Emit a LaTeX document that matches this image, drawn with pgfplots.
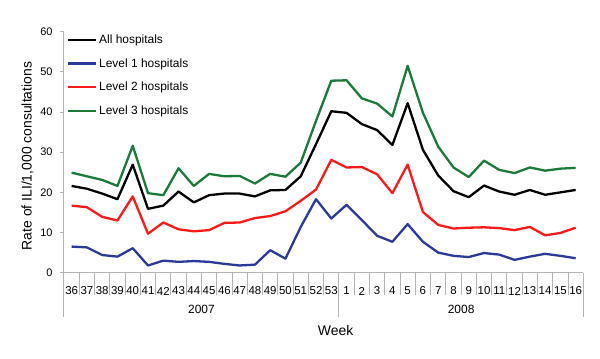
\documentclass[border=0pt]{standalone}
\usepackage{pgfplots}
\pgfplotsset{compat=1.18}
\usepackage{pgfplotstable}
\usepackage{fontspec}
\setmainfont{Liberation Sans}
\definecolor{lblue}{RGB}{43,58,154}
\definecolor{lred}{RGB}{250,26,26}
\definecolor{lgreen}{RGB}{26,122,58}
\definecolor{axgray}{RGB}{180,180,180}
\pgfplotstableread{
x all l1 l2 l3
0 21.6 6.5 16.7 24.9
1 20.9 6.3 16.3 24.0
2 19.7 4.4 13.9 23.1
3 18.3 4.0 13.0 21.6
4 26.9 6.1 19.0 31.6
5 15.9 1.8 9.7 19.8
6 16.7 3.0 12.5 19.3
7 20.2 2.7 10.8 26.0
8 17.5 2.9 10.3 21.6
9 19.3 2.7 10.6 24.6
10 19.7 2.2 12.4 24.0
11 19.7 1.8 12.5 24.1
12 19.0 2.0 13.6 22.2
13 20.5 5.6 14.1 24.6
14 20.6 3.5 15.3 23.9
15 24.0 11.4 17.9 27.4
16 32.0 18.3 20.7 37.8
17 40.2 13.5 28.1 47.8
18 39.8 16.9 26.2 47.9
19 37.0 13.1 26.3 43.4
20 35.5 9.2 24.5 42.1
21 31.8 7.7 19.8 38.9
22 42.2 12.1 26.9 51.5
23 30.6 7.7 15.1 39.8
24 24.2 5.0 11.9 31.4
25 20.3 4.2 11.0 26.2
26 18.8 3.9 11.2 23.8
27 21.7 4.9 11.3 27.9
28 20.2 4.5 11.1 25.6
29 19.4 3.2 10.6 24.8
30 20.6 4.0 11.4 26.2
31 19.4 4.7 9.3 25.4
32 20.0 4.2 9.9 25.9
33 20.6 3.6 11.2 26.1
}\datatable
\begin{document}
\begin{tikzpicture}
\begin{axis}[
  at={(0,0)}, anchor=south west,
  scale only axis, width=519.3bp, height=241bp,
  xmin=-0.5, xmax=33.5, ymin=0, ymax=60,
  clip=false,
  axis x line*=bottom, axis y line*=left,
  axis line style={axgray, line width=1bp},
  /pgf/number format/assume math mode=true,
  ytick={0,10,...,60},
  tick align=outside, major tick length=4bp,
  ytick style={axgray, line width=1bp},
  yticklabel style={font=\fontsize{11}{13}\selectfont, anchor=east, xshift=-4bp},
  xtick={0,...,33},
  xticklabels={36,37,38,39,40,41,42,43,44,45,46,47,48,49,50,51,52,53,1,2,3,4,5,6,7,8,9,10,11,12,13,14,15,16},
  xtick style={draw=none},
  xticklabel style={font=\fontsize{11.5}{13}\selectfont, anchor=center, yshift=-14.3bp, inner sep=0pt},
  xlabel={Week},
  xlabel style={font=\fontsize{14}{16}\selectfont, at={(axis description cs:0.523,0)}, anchor=center, yshift=-58bp},
  ylabel={Rate of ILI/1,000 consultations},
  ylabel style={font=\fontsize{14}{16}\selectfont, at={(axis description cs:-0.0703,0.484)}, anchor=center},
  legend style={at={(axis description cs:0,1)}, anchor=north west, draw=none, fill=none,
    font=\fontsize{12}{14}\selectfont, row sep=9.5bp, inner sep=0pt, xshift=3bp, yshift=-1bp,
    nodes={inner sep=2bp}},
  legend cell align=left,
  legend image code/.code={\draw[#1] (0bp,0bp) -- (27.7bp,0bp);},
  every axis plot/.append style={line width=2.3bp, line join=round},
]
\foreach \k in {-0.5,0.5,1.5,2.5,3.5,4.5,5.5,6.5,7.5,8.5,9.5,10.5,11.5,12.5,13.5,14.5,15.5,16.5,17.5,18.5,19.5,20.5,21.5,22.5,23.5,24.5,25.5,26.5,27.5,28.5,29.5,30.5,31.5,32.5,33.5}{
  \edef\tmp{\noexpand\draw[axgray, line width=1bp] (axis cs:\k,0) -- ([yshift=-22.3bp]axis cs:\k,0);}\tmp
}
\foreach \k in {-0.5,17.5,33.5}{
  \edef\tmp{\noexpand\draw[axgray, line width=1bp] (axis cs:\k,0) -- ([yshift=-44.3bp]axis cs:\k,0);}\tmp
}
\node[font=\fontsize{12}{14}\selectfont] at (axis cs:8.5,0) [yshift=-36.8bp] {2007};
\node[font=\fontsize{12}{14}\selectfont] at (axis cs:25.5,0) [yshift=-36.8bp] {2008};
\addplot[black, mark=none] table[x=x, y=all] {\datatable};
\addlegendentry{All hospitals}
\addplot[lblue, mark=none] table[x=x, y=l1] {\datatable};
\addlegendentry{Level 1 hospitals}
\addplot[lred, mark=none] table[x=x, y=l2] {\datatable};
\addlegendentry{Level 2 hospitals}
\addplot[lgreen, mark=none] table[x=x, y=l3] {\datatable};
\addlegendentry{Level 3 hospitals}
\end{axis}
\pgfresetboundingbox
\path[use as bounding box] (-64bp,-86.3bp) rectangle (536bp,272.7bp);
\end{tikzpicture}
\end{document}
